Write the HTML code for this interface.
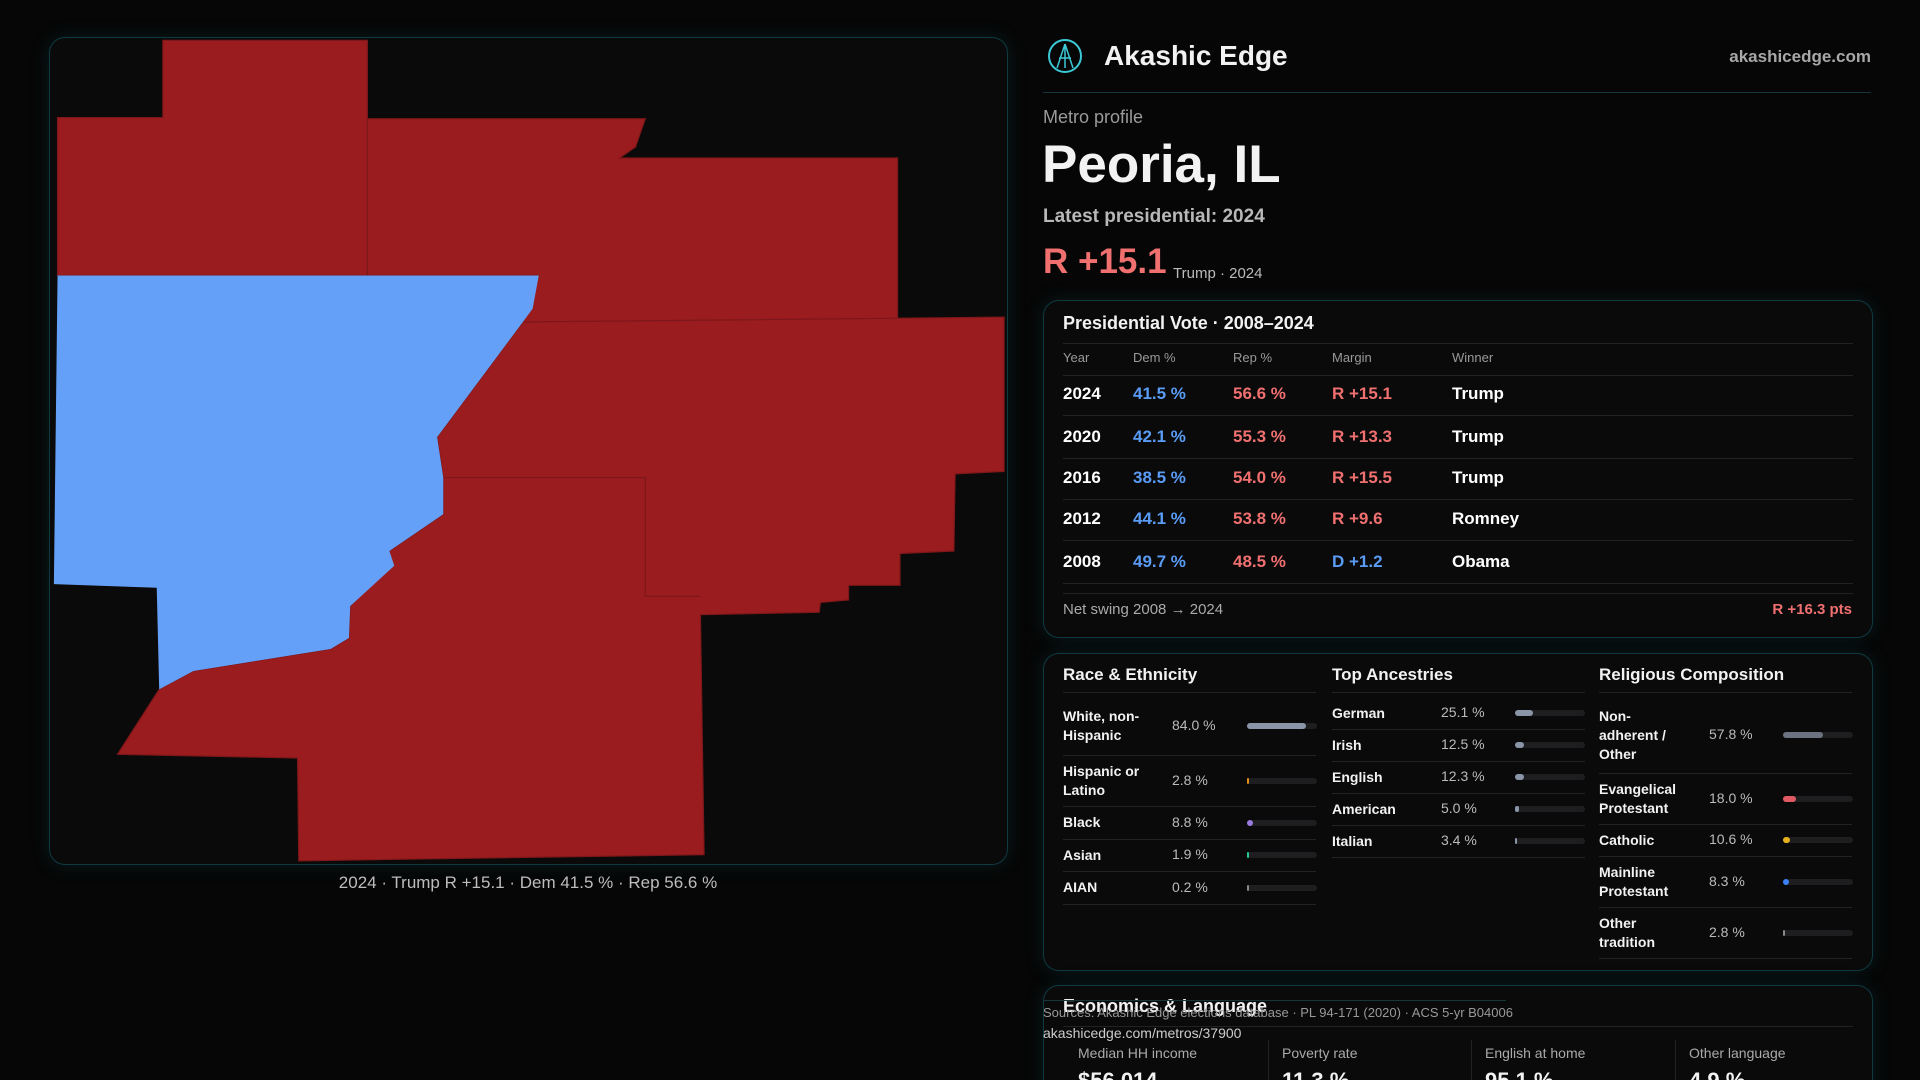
<!DOCTYPE html>
<html><head><meta charset="utf-8"><style>
html,body{margin:0;width:1920px;height:1080px;overflow:hidden}
body{background:#060606;font-family:"Liberation Sans",sans-serif;color:#f2f2f2;position:relative}
#wrap{position:absolute;left:0;top:0;width:1920px;height:1080px;overflow:hidden}
.a{position:absolute;white-space:nowrap}
.card{position:absolute;background:#0a0a0b;border:1px solid #0f3a40;border-radius:16px;box-shadow:0 0 18px rgba(20,90,100,.25)}
.muted{color:#9a9a9a}
.red{color:#f07070}.blue{color:#5a9cf5}
.hl{position:absolute;height:1px;background:#222}
.bar{position:absolute;height:6px;border-radius:3px;background:#1e1e20}
.bar i{position:absolute;left:0;top:0;height:6px;border-radius:3px}
</style></head><body><div id="wrap">
<div class="card" style="left:49px;top:37px;width:957px;height:826px;background:#0a0a0a"></div>
<svg class="a" style="left:0;top:0" width="1920" height="1080" viewBox="0 0 1568 882">
<g fill="#9b1c1f" stroke="#7e1719" stroke-width="1">
<polygon points="133,33 300,33 300,225 47,225 47,96 133,96"/>
<polygon points="300,97 527,97 519,120 506,129 733,129 733,260 427,263 440,225 300,225"/>
<polygon points="427,263 820,259 820,385 780,387 779,450 735,452 735,478 693,478 693,490 670,492 669,500 572,502 575,698 244,703 243,619 96,616 130,563 158,548 270,530 285,521 286,495 318,462 318,450 362,420 362,390 357,357"/>
</g>
<polyline points="362,390 527,390 527,487 572,487" fill="none" stroke="#7e1719"/>
<polygon fill="#64a0f8" points="47,225 440,225 435,252 427,263 357,357 362,390 362,420 318,450 322,462 286,495 285,521 270,530 158,548 130,563 128,480 44,477"/>
</svg>
<div class="a muted" style="left:0;width:1056px;text-align:center;top:873px;font-size:17px;color:#bdbdbd">2024 · Trump R +15.1 · Dem 41.5 % · Rep 56.6 %</div>

<svg class="a" style="left:1047px;top:38px" width="36" height="36" viewBox="0 0 36 36"><circle cx="18" cy="18" r="16" fill="none" stroke="#3cc9d6" stroke-width="2"/><path d="M18 6 L10 30 M18 6 L26 30 M12 20 H24 M18 6 V30" stroke="#3cc9d6" stroke-width="1.5" fill="none"/></svg>
<div class="a" style="left:1104px;top:40px;font-size:28px;font-weight:bold">Akashic Edge</div>
<div class="a muted" style="right:49px;top:47px;font-size:17px;font-weight:bold;color:#a8a8a8">akashicedge.com</div>
<div class="hl" style="left:1043px;top:92px;width:828px;background:#15363a"></div>
<div class="a muted" style="left:1043px;top:107px;font-size:18px">Metro profile</div>
<div class="a" style="left:1042px;top:134px;font-size:53px;font-weight:bold">Peoria, IL</div>
<div class="a" style="left:1043px;top:206px;font-size:19px;font-weight:bold;color:#b8b8b8">Latest presidential: 2024</div>
<div class="a red" style="left:1043px;top:242px;font-size:35px;font-weight:bold">R +15.1</div>
<div class="a" style="left:1173px;top:265px;font-size:15px;color:#bbb">Trump · 2024</div>

<div class="card" style="left:1043px;top:300px;width:828px;height:336px"></div>
<div class="a" style="left:1063px;top:313px;font-size:18px;font-weight:bold">Presidential Vote · 2008–2024</div>
<div class="hl" style="left:1063px;top:343px;width:790px"></div>
<div id="vt"></div>
<div class="hl" style="left:1063px;top:593px;width:790px"></div>
<div class="a muted" style="left:1063px;top:601px;font-size:15px;color:#aaa">Net swing 2008 → 2024</div>
<div class="a red" style="right:68px;top:601px;font-size:15px;font-weight:bold">R +16.3 pts</div>

<div class="card" style="left:1043px;top:653px;width:828px;height:316px"></div>
<div id="demo"></div>

<div class="card" style="left:1043px;top:985px;width:828px;height:120px"></div>
<div class="a" style="left:1063px;top:996px;font-size:18px;font-weight:bold">Economics &amp; Language</div>
<div class="hl" style="left:1043px;top:1000px;width:463px;background:#15363a"></div>
<div class="a" style="left:1043px;top:1005px;font-size:13px;color:#999">Sources: Akashic Edge elections database · PL 94-171 (2020) · ACS 5-yr B04006</div>
<div class="a" style="left:1043px;top:1025px;font-size:14px;color:#ccc">akashicedge.com/metros/37900</div>
<div class="hl" style="left:1063px;top:1026px;width:790px"></div>
<div id="econ"></div>
</div>
<script>
const years=["2024","2020","2016","2012","2008"];
const demPct=[41.5,42.1,38.5,44.1,49.7];
const repPct=[56.6,55.3,54.0,53.8,48.5];
const margins=["R +15.1","R +13.3","R +15.5","R +9.6","D +1.2"];
const winners=["Trump","Trump","Trump","Romney","Obama"];
const raceLabels=["White, non-<br>Hispanic","Hispanic or<br>Latino","Black","Asian","AIAN"];
const raceVals=[84.0,2.8,8.8,1.9,0.2];
const raceColors=["#8b95a8","#e0901a","#9b7be0","#20c997","#888"];
const ancLabels=["German","Irish","English","American","Italian"];
const ancVals=[25.1,12.5,12.3,5.0,3.4];
const relLabels=["Non-<br>adherent /<br>Other","Evangelical<br>Protestant","Catholic","Mainline<br>Protestant","Other<br>tradition"];
const relVals=[57.8,18.0,10.6,8.3,2.8];
const relColors=["#6b7280","#e05a64","#e8b01a","#3b82f6","#888"];
const econLabels=["Median HH income","Poverty rate","English at home","Other language"];
const econVals=["$56,014","11.3 %","95.1 %","4.9 %"];
const W=document.getElementById('wrap');
function mk(parent,html,l,t,fs,extra){const d=document.createElement('div');d.className='a';d.innerHTML=html;d.style.cssText+=`left:${l}px;top:${t}px;font-size:${fs}px;`+(extra||'');parent.appendChild(d);return d;}
const vt=document.getElementById('vt');
const hdr=["Year","Dem %","Rep %","Margin","Winner"],hx=[1063,1133,1233,1332,1452];
hdr.forEach((h,i)=>{const e=mk(vt,h,hx[i],350,13,'color:#999');

});
const rowY=[394,437,478,519,562];
years.forEach((y,i)=>{const cy=rowY[i]-10;const ms=margins[i];const isR=ms.charAt(0)==='R';
const cells=[[y,'color:#fff'],[demPct[i].toFixed(1)+' %','color:#5a9cf5'],[repPct[i].toFixed(1)+' %','color:#f07070'],[ms,isR?'color:#f07070':'color:#5a9cf5'],[winners[i],'color:#fff']];
cells.forEach((c,j)=>{const e=mk(vt,c[0],hx[j],cy,17,'font-weight:bold;'+c[1]);

});
const l=document.createElement('div');l.className='hl';l.style.cssText=`left:1063px;top:${cy+31}px;width:790px`;vt.appendChild(l);
});
const l0=document.createElement('div');l0.className='hl';l0.style.cssText='left:1063px;top:375px;width:790px';vt.appendChild(l0);

const demo=document.getElementById('demo');
function section(title,x,labels,vals,colors,heights,valx,barx,maxv){
 const t=mk(demo,title,x,665,17,'font-weight:bold');
 
 
 const hl=document.createElement('div');hl.className='hl';hl.style.cssText=`left:${x}px;top:692px;width:253px`;demo.appendChild(hl);
 let y=697;
 labels.forEach((lb,i)=>{const h=heights[i];const cy=y+h/2;
  const n=(lb.match(/<br>/g)||[]).length+1;
  const e=mk(demo,lb,x,cy-n*9.5,14,'font-weight:bold;line-height:19px');
  
  
  const v=mk(demo,vals[i].toFixed(1)+' %',valx,cy-9,14,'color:#bbb');
  
  
  const b=document.createElement('div');b.className='bar';b.style.cssText=`left:${barx}px;top:${cy-3}px;width:70px`;
  
  
  const f=document.createElement('i');f.style.width=Math.max(2,70*vals[i]/maxv)+'px';f.style.background=colors[i];b.appendChild(f);demo.appendChild(b);
  y+=h;const s=document.createElement('div');s.className='hl';s.style.cssText=`left:${x}px;top:${y}px;width:253px`;demo.appendChild(s);
 });
}
section("Race & Ethnicity",1063,raceLabels,raceVals,raceColors,[58,51,33,32,33],1172,1247,100);
section("Top Ancestries",1332,ancLabels,ancVals,ancVals.map(()=>"#8b95a8"),[32,32,32,32,32],1441,1515,100);
section("Religious Composition",1599,relLabels,relVals,relColors,[76,51,32,51,51],1709,1783,100);

const econ=document.getElementById('econ');const ex=[1078,1282,1485,1689];
econLabels.forEach((lb,i)=>{const a=mk(econ,lb,ex[i],1045,14,'color:#aaa');


const b=mk(econ,econVals[i],ex[i],1068,22,'font-weight:bold');


if(i>0){const s=document.createElement('div');s.style.cssText=`position:absolute;left:${ex[i]-14}px;top:1040px;width:1px;height:40px;background:#222`;econ.appendChild(s);}
});
</script>
</body></html>
